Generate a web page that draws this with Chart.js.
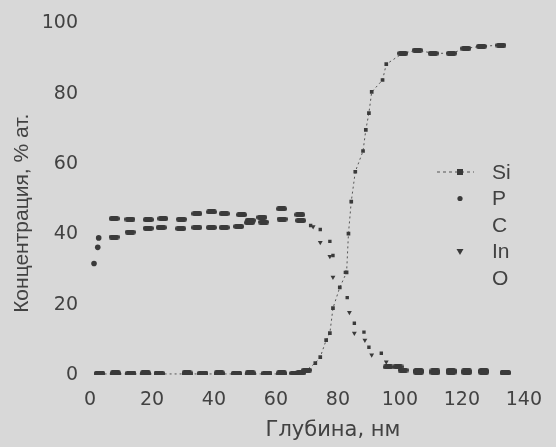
<!DOCTYPE html>
<html><head><meta charset="utf-8">
<script src="https://cdn.jsdelivr.net/npm/chart.js@4.4.1/dist/chart.umd.min.js"></script>
<style>html,body{margin:0;padding:0;background:#d8d8d8;}canvas{display:block;}</style>
</head><body>
<canvas id="c" width="556" height="447"></canvas>
<script>
// ---- data ----
const xTitle = 'Глубина, нм';
const yTitle = 'Концентрация, % ат.';
const seriesNames = ['Si', 'P', 'C', 'In', 'O'];
const xTickValues = [0, 20, 40, 60, 80, 100, 120, 140];
const yTickValues = [0, 20, 40, 60, 80, 100];

const siDepth = [3.1, 8.2, 13.2, 17.9, 22.3, 31.3, 36.4, 41.7, 47.3, 51.7, 57.1, 61.8, 66, 68, 69.9, 72.7, 74.3, 76.2, 77.4, 78.4, 80.6, 82.8, 83.4, 84.3, 85.6, 88.1, 89, 90, 90.9, 94.4, 95.6, 100.9, 105.6, 110.7, 116.6, 121.3, 126.3, 132.6];
const siConc  = [0.3, 0.3, 0.3, 0.3, 0.3, 0.3, 0.3, 0.3, 0.3, 0.3, 0.3, 0.3, 0.5, 0.6, 1.4, 3.4, 5.1, 9.9, 11.9, 19, 24.9, 29.2, 40.2, 49.3, 57.8, 63.7, 69.7, 74.5, 80.5, 83.9, 88.4, 91.5, 92.4, 91.5, 91.5, 92.9, 93.5, 93.8];

const pDepth = [3.1, 13.2, 22.3, 36.4, 47.3, 57.1, 106, 116.5, 127];
const pConc  = [0.5, 0.5, 0.5, 0.5, 0.5, 0.5, 0.8, 0.8, 0.8];

const cDepth = [8.2, 17.9, 31.3, 41.7, 51.7, 61.8, 111.3, 121.5, 134];
const cConc  = [0.6, 0.6, 0.6, 0.6, 0.6, 0.6, 0.7, 0.7, 0.6];

const inDepth = [1.3, 2.5, 2.8, 7.8, 13, 18.8, 23, 29.3, 34.5, 39.2, 43.3, 48, 51.5, 55.5, 62, 68, 72, 74.3, 77.4, 78.4, 83.7, 85.3, 88.7, 90.9, 95.6, 99.4, 106, 116.5, 127];
const inConc  = [31.7, 36.3, 39, 39.2, 40.6, 41.7, 41.9, 41.6, 41.9, 41.9, 41.9, 42.2, 43.3, 44.8, 44.3, 43.9, 42.2, 37.7, 33.7, 27.8, 17.8, 11.9, 9.9, 5.7, 3.7, 2.3, 1.1, 1.1, 1.0];

const oDepth = [7.8, 12.9, 18.8, 23.5, 29.5, 34.5, 39.2, 43.3, 48.9, 51.7, 56, 61.8, 67.7, 71.2, 74.3, 77.4, 78.4, 82.4, 83, 85.3, 88.4, 90, 94, 96.2, 101, 106, 111.3, 116.5, 121.5, 127, 134];
const oConc  = [44.5, 44.3, 44.2, 44.5, 44.3, 45.9, 46.4, 45.9, 45.6, 44, 43.5, 47.3, 45.6, 42.5, 41.4, 38, 34, 29.2, 22, 14.7, 12.2, 7.9, 6.2, 2.3, 1.4, 1.2, 1.2, 1.2, 1.2, 1.2, 0.7];

// ---- styling ----
const ink = '#3a3a3a';
const txt = '#424242';
function makeDash(w, h) {
  const c = document.createElement('canvas');
  c.width = w; c.height = h;
  const g = c.getContext('2d');
  g.fillStyle = ink;
  g.beginPath();
  if (g.roundRect) g.roundRect(0, 0, w, h, h / 2); else g.rect(0, 0, w, h);
  g.fill();
  return c;
}
const dash = makeDash(11, 5);
const pts = (xs, ys) => xs.map((x, i) => ({ x: x, y: ys[i] }));
const dense = ctx => ctx.raw && ((ctx.raw.x >= 3 && ctx.raw.x < 70) || ctx.raw.y < 2.5 || ctx.raw.y > 90);

const datasets = [
  { label: seriesNames[0], data: pts(siDepth, siConc), showLine: true,
    borderColor: '#555', borderWidth: 1, borderDash: [2, 3], tension: 0,
    pointStyle: ctx => dense(ctx) ? dash : 'rect', pointRadius: 2.6,
    pointBackgroundColor: ink, pointBorderColor: ink, pointBorderWidth: 0 },
  { label: seriesNames[1], data: pts(pDepth, pConc), showLine: false,
    pointStyle: dash, pointBackgroundColor: ink, pointBorderWidth: 0 },
  { label: seriesNames[2], data: pts(cDepth, cConc), showLine: false,
    pointStyle: dash, pointBackgroundColor: ink, pointBorderWidth: 0 },
  { label: seriesNames[3], data: pts(inDepth, inConc), showLine: false,
    pointStyle: ctx => dense(ctx) ? dash : (ctx.raw && ctx.raw.x < 3 ? 'circle' : 'triangle'),
    pointRotation: 180, pointRadius: 2.8,
    pointBackgroundColor: ink, pointBorderColor: ink, pointBorderWidth: 0 },
  { label: seriesNames[4], data: pts(oDepth, oConc), showLine: false,
    pointStyle: ctx => dense(ctx) ? dash : 'rect', pointRadius: 2.4,
    pointBackgroundColor: ink, pointBorderColor: ink, pointBorderWidth: 0 }
];

const tickFont = { family: '"DejaVu Sans", sans-serif', size: 19 };

const refDecor = {
  id: 'refDecor',
  afterDraw(chart) {
    const ctx = chart.ctx;
    const a = chart.chartArea;
    ctx.save();
    ctx.fillStyle = txt;
    // axis titles
    ctx.font = '21px "DejaVu Sans", sans-serif';
    ctx.textAlign = 'center';
    ctx.textBaseline = 'middle';
    ctx.fillText(xTitle, a.left + (a.right - a.left) * 0.56, 431);
    ctx.save();
    ctx.translate(22, a.top + (a.bottom - a.top) * 0.54);
    ctx.rotate(-Math.PI / 2);
    ctx.font = '21px "Liberation Sans", Arial, sans-serif';
    ctx.fillText(yTitle, 0, 0);
    ctx.restore();
    // legend
    const lx = 460, tx = 492, y0 = 172, dy = 26.5;
    ctx.font = '21px "Liberation Sans", Arial, sans-serif';
    ctx.textAlign = 'left';
    seriesNames.forEach((n, i) => ctx.fillText(n, tx, y0 + i * dy + 1));
    ctx.fillStyle = ink;
    ctx.strokeStyle = '#555';
    ctx.lineWidth = 1;
    ctx.setLineDash([3, 3]);
    ctx.beginPath(); ctx.moveTo(437, y0); ctx.lineTo(474, y0); ctx.stroke();
    ctx.setLineDash([]);
    ctx.fillRect(lx - 3, y0 - 3, 6, 6);
    ctx.beginPath(); ctx.arc(lx, y0 + dy, 2.6, 0, Math.PI * 2); ctx.fill();
    const ty = y0 + 3 * dy;
    ctx.beginPath(); ctx.moveTo(lx - 3.5, ty - 2.5); ctx.lineTo(lx + 3.5, ty - 2.5); ctx.lineTo(lx, ty + 3.5); ctx.closePath(); ctx.fill();
    ctx.restore();
  }
};

new Chart(document.getElementById('c'), {
  type: 'scatter',
  data: { datasets: datasets },
  options: {
    responsive: false,
    animation: false,
    devicePixelRatio: 1,
    layout: { padding: { top: 22, right: 19, left: 0, bottom: 0 } },
    plugins: { legend: { display: false }, tooltip: { enabled: false } },
    scales: {
      x: {
        type: 'linear', min: 0, max: 140,
        afterBuildTicks: s => { s.ticks = xTickValues.map(v => ({ value: v })); },
        afterFit: s => { s.height = 72; },
        grid: { display: false, drawTicks: false },
        border: { display: false },
        ticks: { color: txt, font: tickFont, padding: 14, maxRotation: 0, autoSkip: false }
      },
      y: {
        type: 'linear', min: 0, max: 100,
        afterBuildTicks: s => { s.ticks = yTickValues.map(v => ({ value: v })); },
        afterFit: s => { s.width = 90; },
        grid: { display: false, drawTicks: false },
        border: { display: false },
        ticks: { color: txt, font: tickFont, padding: 12, autoSkip: false }
      }
    }
  },
  plugins: [refDecor]
});
</script>
</body></html>
